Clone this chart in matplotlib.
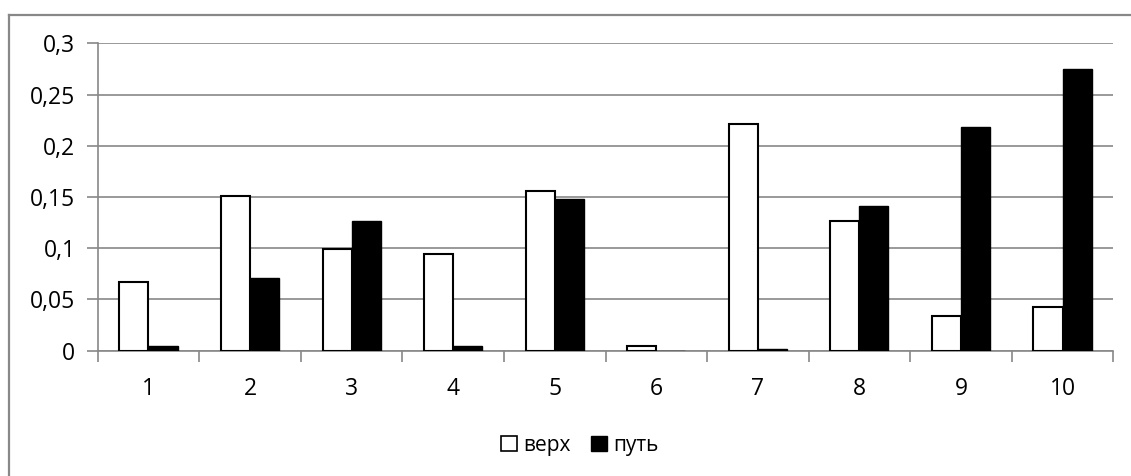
import matplotlib
matplotlib.use("Agg")
import matplotlib.pyplot as plt
import numpy as np
from matplotlib.lines import Line2D
from matplotlib.patches import Patch
from matplotlib.ticker import FuncFormatter, FixedLocator

plt.rcParams['font.family'] = ['Open Sans', 'DejaVu Sans']

categories = ['1', '2', '3', '4', '5', '6', '7', '8', '9', '10']
verh = [0.0674, 0.151, 0.0996, 0.0944, 0.1556, 0.0042, 0.2214, 0.1266, 0.0342, 0.043]
put = [0.0042, 0.0713, 0.1263, 0.0049, 0.1481, 0.0, 0.0013, 0.141, 0.2181, 0.275]
series_names = ['верх', 'путь']
yticks = [0, 0.05, 0.1, 0.15, 0.2, 0.25, 0.3]

FS = 16.5

fig = plt.figure(figsize=(11.31, 4.76), dpi=100)
ax = fig.add_axes([97.7/1131, 1 - 350.7/476, (1113.3-97.7)/1131, (350.7-43.3)/476])

x = np.arange(len(categories))
w = 0.286
ax.bar(x - w/2, verh, width=w, color='white', edgecolor='black', linewidth=1.5, zorder=3)
ax.bar(x + w/2, put, width=w, color='black', edgecolor='black', linewidth=1.0, zorder=3)

ax.set_xlim(-0.5, len(categories) - 0.5)
ax.set_ylim(0, 0.3)
ax.set_yticks(yticks)
ax.yaxis.set_major_formatter(FuncFormatter(lambda v, p: ('%g' % round(v, 2)).replace('.', ',')))
ax.set_xticks(x)
ax.set_xticklabels(categories)
ax.xaxis.set_minor_locator(FixedLocator(np.arange(len(categories) + 1) - 0.5))
ax.tick_params(axis='x', which='major', length=0, pad=19, labelsize=FS)
ax.tick_params(axis='x', which='minor', length=8, color='#888888', width=1.2)
ax.tick_params(axis='y', length=8, color='#888888', width=1.2, labelsize=FS, pad=8)
ax.grid(axis='y', color='#888888', linewidth=1.2, zorder=0)
ax.set_axisbelow(True)
for s in ['top', 'right']:
    ax.spines[s].set_visible(False)
for s in ['left', 'bottom']:
    ax.spines[s].set_color('#888888')
    ax.spines[s].set_linewidth(1.2)

handles = [Patch(facecolor='white', edgecolor='black', linewidth=1.2),
           Patch(facecolor='black', edgecolor='black')]
fig.legend(handles, series_names, loc='center', bbox_to_anchor=(580/1131, 1 - 445/476),
           ncol=2, frameon=False, fontsize=15, handlelength=0.75, handleheight=0.75,
           handletextpad=0.3, columnspacing=1.0)

# outer chart frame (left and top edges visible)
fig.add_artist(Line2D([8.5/1131, 8.5/1131], [0, 1 - 14.7/476], color='#888888', linewidth=1.6))
fig.add_artist(Line2D([8.5/1131, 1], [1 - 14.7/476, 1 - 14.7/476], color='#888888', linewidth=1.6))

fig.savefig('out.png', dpi=100)
